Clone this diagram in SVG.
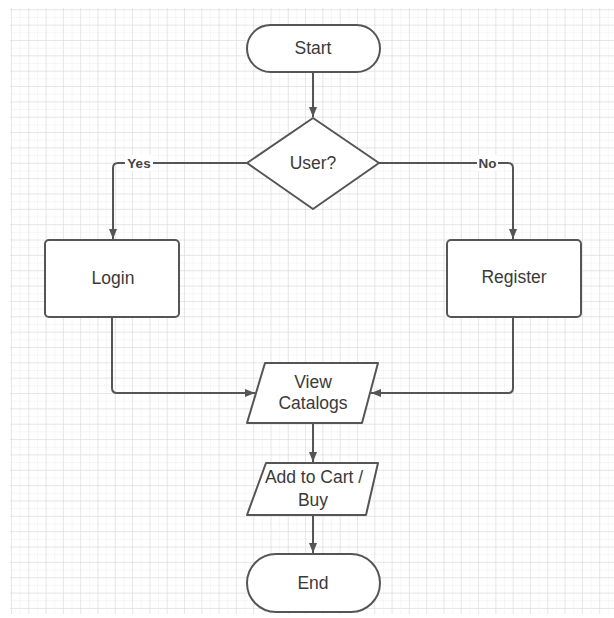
<svg xmlns="http://www.w3.org/2000/svg" width="614" height="618" viewBox="0 0 614 618">
  <defs>
    <pattern id="minor" x="11" y="1.6" width="8.65" height="7.675" patternUnits="userSpaceOnUse">
      <path d="M0 0V7.675M0 0H8.65" fill="none" stroke="#ededed" stroke-width="1"/>
    </pattern>
    <pattern id="major" x="11" y="9.3" width="17.3" height="15.35" patternUnits="userSpaceOnUse">
      <path d="M0 0V15.35M0 0H17.3" fill="none" stroke="#d8d8d8" stroke-width="1"/>
    </pattern>
    <marker id="arr" viewBox="0 0 10 8" refX="10" refY="4" markerWidth="10" markerHeight="8" markerUnits="userSpaceOnUse" orient="auto">
      <path d="M0 0L10 4L0 8z" fill="#555"/>
    </marker>
  </defs>
  <style>
    .shape{fill:#fff;stroke:#555;stroke-width:2}
    .lbl{font-family:"Liberation Sans",Arial,sans-serif;font-size:17.5px;fill:#3a3a3a;text-anchor:middle;dominant-baseline:central}
    .edge{fill:none;stroke:#555;stroke-width:2}
    .elbl{font-family:"Liberation Sans",Arial,sans-serif;font-size:13.5px;font-weight:bold;fill:#444;text-anchor:middle;dominant-baseline:central}
  </style>
  <rect width="614" height="618" fill="#fff"/>
  <rect x="10" y="8" width="604" height="606" fill="url(#minor)"/>
  <rect x="10" y="8" width="604" height="606" fill="url(#major)"/>

  <g id="connectors">
    <path class="edge" d="M313 72V117" marker-end="url(#arr)"/>
    <path class="edge" d="M247 163H118Q113 163 113 168V239" marker-end="url(#arr)"/>
    <path class="edge" d="M379 163H508Q513 163 513 168V239" marker-end="url(#arr)"/>
    <path class="edge" d="M112 317V388Q112 393 117 393H255" marker-end="url(#arr)"/>
    <path class="edge" d="M513 317V388Q513 393 508 393H371" marker-end="url(#arr)"/>
    <path class="edge" d="M313 423V462" marker-end="url(#arr)"/>
    <path class="edge" d="M313 515V553" marker-end="url(#arr)"/>
    <rect x="125" y="155" width="28" height="16" fill="#fff"/>
    <text class="elbl" x="139" y="163">Yes</text>
    <rect x="477" y="155" width="21" height="16" fill="#fff"/>
    <text class="elbl" x="487.5" y="163">No</text>
  </g>

  <g id="start">
    <rect class="shape" x="247" y="25" width="133" height="47" rx="23.5"/>
    <text class="lbl" x="313" y="48">Start</text>
  </g>
  <g id="user">
    <path class="shape" d="M313 118L379 163L313 209L247 163Z" stroke-linejoin="round"/>
    <text class="lbl" x="313" y="163">User?</text>
  </g>
  <g id="login">
    <rect class="shape" x="45" y="240" width="134" height="77" rx="4"/>
    <text class="lbl" x="113" y="278">Login</text>
  </g>
  <g id="register">
    <rect class="shape" x="447" y="240" width="134" height="77" rx="4"/>
    <text class="lbl" x="514" y="277">Register</text>
  </g>
  <g id="view">
    <path class="shape" d="M265 363H378L362 423H247Z" stroke-linejoin="round"/>
    <text class="lbl" x="313" y="382">View</text>
    <text class="lbl" x="313" y="403">Catalogs</text>
  </g>
  <g id="cart">
    <path class="shape" d="M266 463H378L366 515H247Z" stroke-linejoin="round"/>
    <text class="lbl" x="314" y="477">Add to Cart /</text>
    <text class="lbl" x="313" y="500">Buy</text>
  </g>
  <g id="end">
    <rect class="shape" x="247" y="554" width="133" height="58" rx="29"/>
    <text class="lbl" x="313" y="583">End</text>
  </g>
</svg>
